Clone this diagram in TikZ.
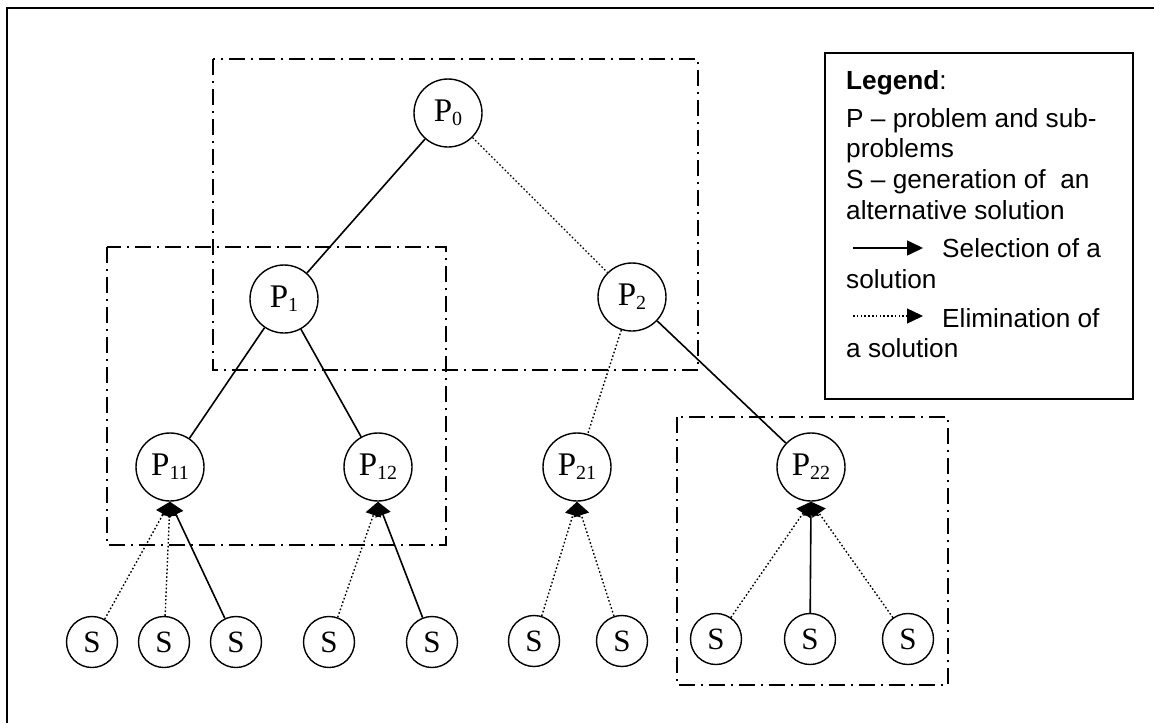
\documentclass[tikz,border=0pt]{standalone}
\usepackage{fontspec}
\setmainfont{Liberation Serif}
\newfontfamily\legendfont{Liberation Sans}
\usetikzlibrary{arrows.meta}
\tikzset{
  x=1pt,y=-1pt,
  bigp/.style={circle,draw,line width=1.4pt,minimum size=68pt,inner sep=0pt,font=\fontsize{33}{36}\selectfont},
  smalls/.style={circle,draw,line width=1.4pt,minimum size=51pt,inner sep=0pt,font=\fontsize{31}{34}\selectfont},
  frame/.style={line width=1.6pt,dash pattern=on 16pt off 6pt on 2pt off 6pt},
  solidlink/.style={line width=1.6pt},
  dotlink/.style={line width=1.4pt,dash pattern=on 1.6pt off 2.2pt},
  tipped/.style={-{Triangle[length=14pt,width=16pt]}},
  legendtip/.style={-{Triangle[length=16pt,width=15pt]}},
  legendtext/.style={anchor=base west,inner sep=0pt,font=\legendfont\fontsize{26.2}{30}\selectfont},
  box/.style={draw,line width=1.4pt},
  outer/.style={draw,line width=2.2pt}
}
\newcommand{\psub}[2]{#1\raisebox{-4pt}{\fontsize{20}{22}\selectfont #2}}
\begin{document}
\begin{tikzpicture}
\useasboundingbox (0,0) rectangle (1154,723);
\draw[outer] (7,723) -- (7,8) -- (1154,8);
% frames
\draw[frame] (213,59) rectangle (698,370);
\draw[frame] (107,247) rectangle (446,545);
\draw[frame] (677,417) rectangle (948,685);
% nodes
\node[bigp] (p0) at (448,113) {\psub{P}{0}};
\node[bigp] (p1) at (284,299) {\psub{P}{1}};
\node[bigp] (p2) at (632,297) {\psub{P}{2}};
\node[bigp] (p11) at (170,467) {\psub{P}{11}};
\node[bigp] (p12) at (378,467) {\psub{P}{12}};
\node[bigp] (p21) at (577,467) {\psub{P}{21}};
\node[bigp] (p22) at (811,467) {\psub{P}{22}};
\node[smalls] (s1) at (92,642) {S};
\node[smalls] (s2) at (164,642) {S};
\node[smalls] (s3) at (236,642) {S};
\node[smalls] (s4) at (329,642) {S};
\node[smalls] (s5) at (432,642) {S};
\node[smalls] (s6) at (534,641) {S};
\node[smalls] (s7) at (622,641) {S};
\node[smalls] (s8) at (716,639) {S};
\node[smalls] (s9) at (810,639) {S};
\node[smalls] (s10) at (908,639) {S};
% tree links
\draw[solidlink] (p0) -- (p1);
\draw[dotlink] (p0) -- (p2);
\draw[solidlink] (p1) -- (p11);
\draw[solidlink] (p1) -- (p12);
\draw[dotlink] (p2) -- (p21);
\draw[solidlink] (p2) -- (p22);
% solution links
\draw[dotlink,tipped] (s1) -- (p11.south);
\draw[dotlink,tipped] (s2) -- (p11.south);
\draw[solidlink,tipped] (s3) -- (p11.south);
\draw[dotlink,tipped] (s4) -- (p12.south);
\draw[solidlink,tipped] (s5) -- (p12.south);
\draw[dotlink,tipped] (s6) -- (p21.south);
\draw[dotlink,tipped] (s7) -- (p21.south);
\draw[dotlink,tipped] (s8) -- (p22.south);
\draw[solidlink,tipped] (s9) -- (p22.south);
\draw[dotlink,tipped] (s10) -- (p22.south);
% legend
\draw[box] (825,53) rectangle (1133,399);
\node[legendtext] (l1) at (846,89) {\textbf{Legend}:};
\node[legendtext] (l2) at (846,127) {P – problem and sub-};
\node[legendtext] (l3) at (846,157) {problems};
\node[legendtext] (l4) at (846,188) {S – generation of\ \ an};
\node[legendtext] (l5) at (846,219) {alternative solution};
\node[legendtext] (l6) at (942,257) {Selection of a};
\node[legendtext] (l7) at (846,288) {solution};
\node[legendtext] (l8) at (942,327) {Elimination of};
\node[legendtext] (l9) at (846,357) {a solution};
\coordinate (a1) at (853,248);
\coordinate (a2) at (923,248);
\coordinate (b1) at (853,316);
\coordinate (b2) at (923,316);
\draw[solidlink,legendtip] (a1) -- (a2);
\draw[dotlink,legendtip] (b1) -- (b2);
\end{tikzpicture}
\end{document}
